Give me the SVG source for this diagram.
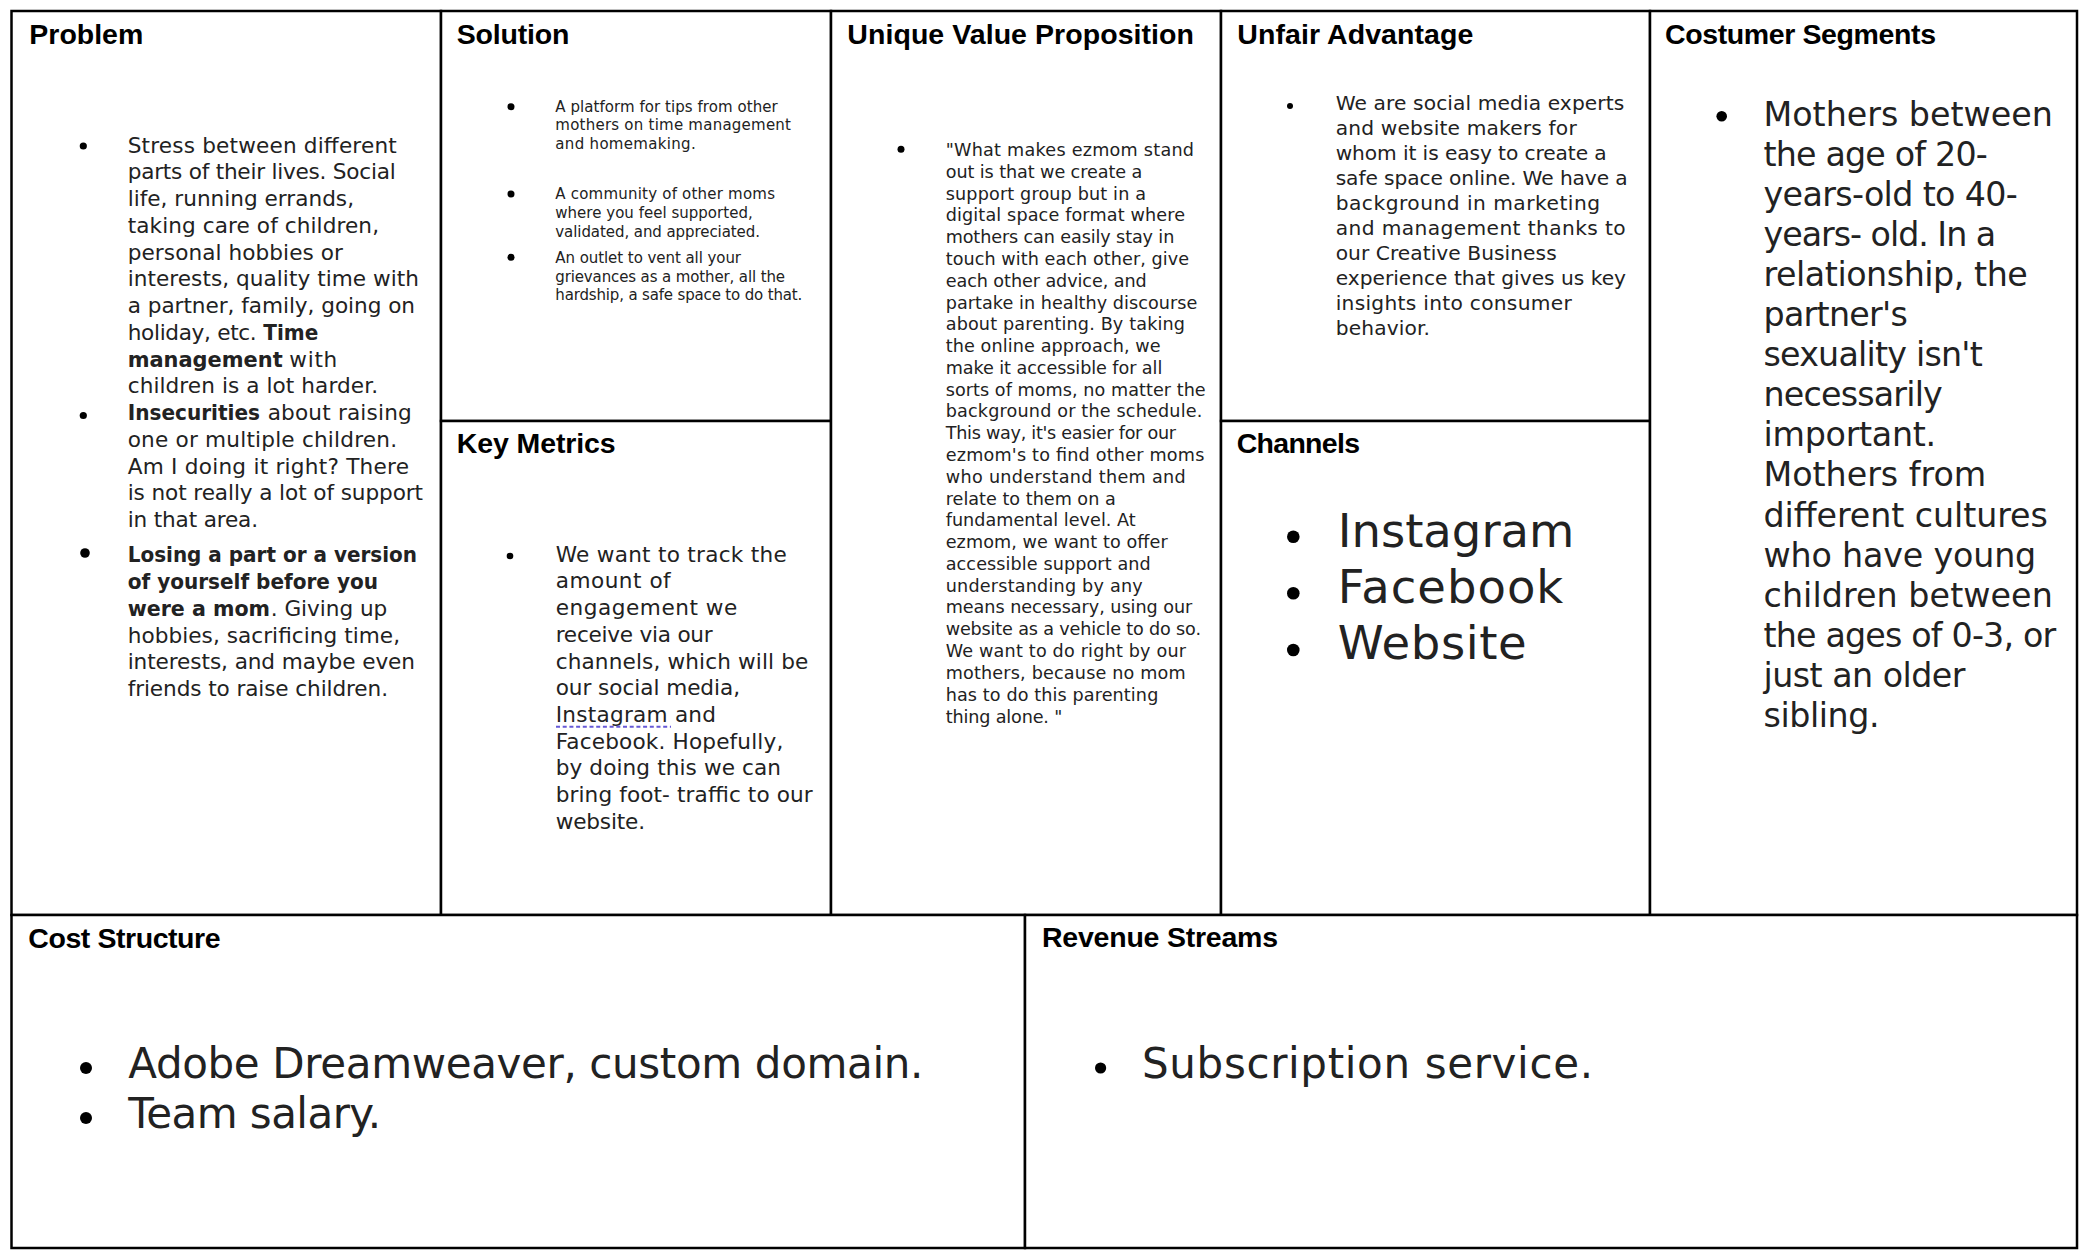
<svg xmlns="http://www.w3.org/2000/svg" width="2088" height="1258" viewBox="0 0 2088 1258">
<style>
.cell{fill:#fff;stroke:#000;stroke-width:2.5}
.t{font-family:"Liberation Sans",Arial,sans-serif;font-weight:bold;font-size:28.5px;fill:#000}
.b{font-family:"DejaVu Sans","Noto Sans",sans-serif;fill:#222}
.bb{font-weight:bold}
.dot{fill:#000}
.p{font-size:21.6px}
.s{font-size:15px}
.u{font-size:17.6px}
.a{font-size:20.2px}
.c{font-size:46.5px}
.g{font-size:33.3px}
.k{font-size:42px}
</style>
<rect x="0" y="0" width="2088" height="1258" fill="#fff"/>
<g id="connectors"></g>

<g id="problem">
<rect class="cell" x="11.5" y="11" width="429.5" height="904"/>
<text class="t" x="29.3" y="44" textLength="114">Problem</text>
<circle class="dot" cx="83.3" cy="146" r="3.6"/>
<circle class="dot" cx="83.3" cy="415.5" r="3.6"/>
<circle class="dot" cx="85" cy="553" r="4.8"/>
<g class="b p">
<text x="127.7" y="152.5" textLength="269">Stress between different</text>
<text x="127.7" y="179.25" textLength="268">parts of their lives. Social</text>
<text x="127.7" y="206" textLength="226.3">life, running errands,</text>
<text x="127.7" y="232.75" textLength="251.3">taking care of children,</text>
<text x="127.7" y="259.5" textLength="215.3">personal hobbies or</text>
<text x="127.7" y="286.25" textLength="291.3">interests, quality time with</text>
<text x="127.7" y="313" textLength="287.3">a partner, family, going on</text>
<text x="127.7" y="339.75" textLength="129">holiday, etc.</text>
<text x="263.3" y="339.75" textLength="55" lengthAdjust="spacingAndGlyphs" class="bb">Time</text>
<text x="127.7" y="366.5" textLength="155" lengthAdjust="spacingAndGlyphs" class="bb">management</text>
<text x="289.3" y="366.5" textLength="48">with</text>
<text x="127.7" y="393.25" textLength="250.3">children is a lot harder.</text>
<text x="127.7" y="420" textLength="132.3" lengthAdjust="spacingAndGlyphs" class="bb">Insecurities</text>
<text x="267.7" y="420" textLength="144">about raising</text>
<text x="127.7" y="446.75" textLength="269.3">one or multiple children.</text>
<text x="127.7" y="473.5" textLength="281.3">Am I doing it right? There</text>
<text x="127.7" y="500.25" textLength="295.3">is not really a lot of support</text>
<text x="127.7" y="527" textLength="130.3">in that area.</text>
<text x="127.7" y="562.4" textLength="289.3" lengthAdjust="spacingAndGlyphs" class="bb">Losing a part or a version</text>
<text x="127.7" y="589.15" textLength="250.3" lengthAdjust="spacingAndGlyphs" class="bb">of yourself before you</text>
<text x="127.7" y="615.9" textLength="142.3" lengthAdjust="spacingAndGlyphs" class="bb">were a mom</text>
<text x="270.7" y="615.9" textLength="116.6">. Giving up</text>
<text x="127.7" y="642.65" textLength="272.3">hobbies, sacrificing time,</text>
<text x="127.7" y="669.4" textLength="287.3">interests, and maybe even</text>
<text x="127.7" y="696.15" textLength="260.3">friends to raise children.</text>
</g>
</g>

<g id="solution">
<rect class="cell" x="441" y="11" width="390" height="410"/>
<text class="t" x="456.7" y="44" textLength="112.7">Solution</text>
<circle class="dot" cx="511" cy="106.7" r="3.5"/>
<circle class="dot" cx="511" cy="194" r="3.5"/>
<circle class="dot" cx="511" cy="257.3" r="3.5"/>
<g class="b s">
<text x="555.3" y="111.7" textLength="222.4">A platform for tips from other</text>
<text x="555.3" y="130.2" textLength="235.7">mothers on time management</text>
<text x="555.3" y="149" textLength="140.4">and homemaking.</text>
<text x="555.3" y="199.3" textLength="219.7">A community of other moms</text>
<text x="555.3" y="217.6" textLength="197.4">where you feel supported,</text>
<text x="555.3" y="237" textLength="204.7">validated, and appreciated.</text>
<text x="555.3" y="263.3" textLength="185.7">An outlet to vent all your</text>
<text x="555.3" y="281.7" textLength="229.7">grievances as a mother, all the</text>
<text x="555.3" y="300" textLength="247">hardship, a safe space to do that.</text>
</g>
</g>

<g id="key-metrics">
<rect class="cell" x="441" y="421" width="390" height="494"/>
<text class="t" x="456.7" y="453" textLength="159">Key Metrics</text>
<circle class="dot" cx="510" cy="556" r="3.3"/>
<g class="b p">
<text x="555.7" y="561.7" textLength="231">We want to track the</text>
<text x="555.7" y="588.4" textLength="115">amount of</text>
<text x="555.7" y="615.1" textLength="181.6">engagement we</text>
<text x="555.7" y="641.8" textLength="157">receive via our</text>
<text x="555.7" y="668.5" textLength="252.6">channels, which will be</text>
<text x="555.7" y="695.2" textLength="184.3">our social media,</text>
<text x="555.7" y="721.9" textLength="160.3">Instagram and</text>
<text x="555.7" y="748.6" textLength="227.6">Facebook. Hopefully,</text>
<text x="555.7" y="775.3" textLength="225.3">by doing this we can</text>
<text x="555.7" y="802" textLength="257">bring foot- traffic to our</text>
<text x="555.7" y="828.7" textLength="89.3">website.</text>
</g>
<line x1="556" y1="726.7" x2="671" y2="726.7" stroke="#6659d6" stroke-width="2" stroke-dasharray="4 2.7"/>
</g>

<g id="unique-value-proposition">
<rect class="cell" x="831" y="11" width="390" height="904"/>
<text class="t" x="847.3" y="44" textLength="346.7">Unique Value Proposition</text>
<circle class="dot" cx="901" cy="149.3" r="3.5"/>
<g class="b u">
<text x="945.7" y="156" textLength="248.3">"What makes ezmom stand</text>
<text x="945.7" y="177.8" textLength="196.6">out is that we create a</text>
<text x="945.7" y="199.6" textLength="200.3">support group but in a</text>
<text x="945.7" y="221.3" textLength="239.3">digital space format where</text>
<text x="945.7" y="243.1" textLength="228.6">mothers can easily stay in</text>
<text x="945.7" y="264.9" textLength="243.3">touch with each other, give</text>
<text x="945.7" y="286.7" textLength="201">each other advice, and</text>
<text x="945.7" y="308.5" textLength="251.6">partake in healthy discourse</text>
<text x="945.7" y="330.2" textLength="239.3">about parenting. By taking</text>
<text x="945.7" y="352" textLength="215">the online approach, we</text>
<text x="945.7" y="373.8" textLength="216.6">make it accessible for all</text>
<text x="945.7" y="395.6" textLength="260">sorts of moms, no matter the</text>
<text x="945.7" y="417.4" textLength="256.6">background or the schedule.</text>
<text x="945.7" y="439.1" textLength="230.3">This way, it's easier for our</text>
<text x="945.7" y="460.9" textLength="258.6">ezmom's to find other moms</text>
<text x="945.7" y="482.7" textLength="240">who understand them and</text>
<text x="945.7" y="504.5" textLength="170">relate to them on a</text>
<text x="945.7" y="526.3" textLength="190">fundamental level. At</text>
<text x="945.7" y="548" textLength="222">ezmom, we want to offer</text>
<text x="945.7" y="569.8" textLength="205">accessible support and</text>
<text x="945.7" y="591.6" textLength="197">understanding by any</text>
<text x="945.7" y="613.4" textLength="246.6">means necessary, using our</text>
<text x="945.7" y="635.2" textLength="255.3">website as a vehicle to do so.</text>
<text x="945.7" y="657.4" textLength="240.3">We want to do right by our</text>
<text x="945.7" y="678.8" textLength="240">mothers, because no mom</text>
<text x="945.7" y="700.6" textLength="212.6">has to do this parenting</text>
<text x="945.7" y="723" textLength="116.6">thing alone. "</text>
</g>
</g>

<g id="unfair-advantage">
<rect class="cell" x="1221" y="11" width="429" height="410"/>
<text class="t" x="1237.3" y="44" textLength="236">Unfair Advantage</text>
<circle class="dot" cx="1290" cy="106" r="3"/>
<g class="b a">
<text x="1335.7" y="110" textLength="288.6">We are social media experts</text>
<text x="1335.7" y="135" textLength="241">and website makers for</text>
<text x="1335.7" y="160" textLength="271">whom it is easy to create a</text>
<text x="1335.7" y="185" textLength="292">safe space online. We have a</text>
<text x="1335.7" y="210" textLength="264.3">background in marketing</text>
<text x="1335.7" y="235" textLength="290">and management thanks to</text>
<text x="1335.7" y="260" textLength="221">our Creative Business</text>
<text x="1335.7" y="285" textLength="290.3">experience that gives us key</text>
<text x="1335.7" y="310" textLength="236">insights into consumer</text>
<text x="1335.7" y="335" textLength="94.3">behavior.</text>
</g>
</g>

<g id="channels">
<rect class="cell" x="1221" y="421" width="429" height="494"/>
<text class="t" x="1236.7" y="453" textLength="123.3">Channels</text>
<circle class="dot" cx="1293.3" cy="536.7" r="6.3"/>
<circle class="dot" cx="1293.3" cy="593.3" r="6.3"/>
<circle class="dot" cx="1293.3" cy="650" r="6.3"/>
<g class="b c">
<text x="1337.7" y="546.5" textLength="236.6">Instagram</text>
<text x="1337.7" y="602.7" textLength="225.6">Facebook</text>
<text x="1337.7" y="659.4" textLength="189">Website</text>
</g>
</g>

<g id="costumer-segments">
<rect class="cell" x="1650" y="11" width="427" height="904"/>
<text class="t" x="1665" y="44" textLength="271">Costumer Segments</text>
<circle class="dot" cx="1721.7" cy="116.3" r="5.3"/>
<g class="b g">
<text x="1763.5" y="125.5" textLength="289.3">Mothers between</text>
<text x="1763.5" y="165.6" textLength="224.3">the age of 20-</text>
<text x="1763.5" y="205.7" textLength="254.3">years-old to 40-</text>
<text x="1763.5" y="245.8" textLength="232.7">years- old. In a</text>
<text x="1763.5" y="285.9" textLength="264.3">relationship, the</text>
<text x="1763.5" y="326" textLength="144.3">partner's</text>
<text x="1763.5" y="366.1" textLength="219.3">sexuality isn't</text>
<text x="1763.5" y="406.2" textLength="179.3">necessarily</text>
<text x="1763.5" y="446.3" textLength="172.7">important.</text>
<text x="1763.5" y="486.4" textLength="222.7">Mothers from</text>
<text x="1763.5" y="526.5" textLength="284.3">different cultures</text>
<text x="1763.5" y="566.6" textLength="272.7">who have young</text>
<text x="1763.5" y="606.7" textLength="289.3">children between</text>
<text x="1763.5" y="646.8" textLength="292.7">the ages of 0-3, or</text>
<text x="1763.5" y="686.9" textLength="202">just an older</text>
<text x="1763.5" y="727" textLength="116">sibling.</text>
</g>
</g>

<g id="cost-structure">
<rect class="cell" x="11.5" y="915" width="1013.5" height="333"/>
<text class="t" x="28.3" y="947.5" textLength="192.3">Cost Structure</text>
<circle class="dot" cx="86" cy="1068" r="6"/>
<circle class="dot" cx="86" cy="1118" r="6"/>
<g class="b k">
<text x="128.3" y="1077.5" textLength="795">Adobe Dreamweaver, custom domain.</text>
<text x="128.3" y="1127.5" textLength="252.7">Team salary.</text>
</g>
</g>

<g id="revenue-streams">
<rect class="cell" x="1025" y="915" width="1052" height="333"/>
<text class="t" x="1042" y="947" textLength="236">Revenue Streams</text>
<circle class="dot" cx="1100.6" cy="1068" r="5.6"/>
<text class="b k" x="1142" y="1077.5" textLength="451">Subscription service.</text>
</g>
</svg>
